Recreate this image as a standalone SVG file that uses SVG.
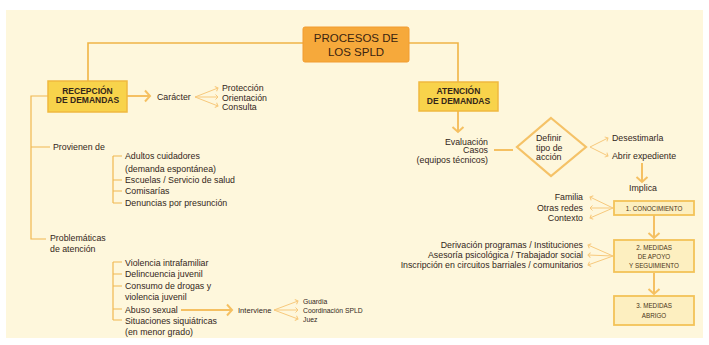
<svg xmlns="http://www.w3.org/2000/svg" width="709" height="345" viewBox="0 0 709 345">
<defs>
<style>
text{font-family:"Liberation Sans",Arial,sans-serif;fill:#33261a;font-size:8.8px}
.b{font-weight:bold;font-size:8.5px;text-anchor:middle}
.t{font-size:11.5px;text-anchor:middle;fill:#3a2410}
.s{font-size:6.8px}
.bx{font-size:6.3px;text-anchor:middle;fill:#4a3418}
.r{text-anchor:end}
.m{text-anchor:middle}
.ln{fill:none;stroke:#f0b445;stroke-width:1.6}
.tk{fill:none;stroke:#f0b850;stroke-width:1.2}
.ar{fill:none;stroke:#f5c062;stroke-width:2}
.fn{fill:none;stroke:#f7c97c;stroke-width:1}
.y{fill:#f8d34b;stroke:#f0b93f;stroke-width:1.5}
.p{fill:#fdefc0;stroke:#f3c258;stroke-width:1.8}
</style>
<marker id="big" markerUnits="userSpaceOnUse" markerWidth="14" markerHeight="14" refX="7" refY="7" orient="auto" viewBox="0 0 14 14">
<polyline points="2,1.5 7,7 2,12.5" fill="none" stroke="#f5c062" stroke-width="2"/>
</marker>
<marker id="sm" markerUnits="userSpaceOnUse" markerWidth="8" markerHeight="8" refX="4" refY="4" orient="auto" viewBox="0 0 8 8">
<polyline points="1.5,1.5 4,4 1.5,6.5" fill="none" stroke="#f7c97c" stroke-width="1"/>
</marker>
</defs>
<rect x="0" y="0" width="709" height="345" fill="#ffffff"/>
<rect x="6" y="10" width="697" height="328" fill="#fef7dc"/>

<g id="connectors">
<path class="ln" d="M303,43 H88 V81"/>
<path class="ln" d="M409,43 H458 V82"/>
<path class="tk" d="M48,96 H31 V239 H46 M31,147 H50"/>
<path class="tk" d="M113,156 V203 M113,156 H122 M113,180 H122 M113,191 H122 M113,203 H122"/>
<path class="tk" d="M113,262 V320 M113,262 H122 M113,274 H122 M113,286 H122 M113,309 H122 M113,320 H122"/>
<path class="ar" d="M127,96 H150" marker-end="url(#big)"/>
<path class="fn" d="M195,97 L218,88" marker-end="url(#sm)"/>
<path class="fn" d="M195,97 L218,97" marker-end="url(#sm)"/>
<path class="fn" d="M195,97 L218,106" marker-end="url(#sm)"/>
<path class="ar" d="M181,310 H232" marker-end="url(#big)"/>
<path class="fn" d="M274,310 L298,301" marker-end="url(#sm)"/>
<path class="fn" d="M274,310 L298,310" marker-end="url(#sm)"/>
<path class="fn" d="M274,310 L298,319" marker-end="url(#sm)"/>
<path class="ar" d="M458,111 V132" marker-end="url(#big)"/>
<path class="ar" d="M494,150 H513"/>
<path class="fn" d="M590,147 L608,138" marker-end="url(#sm)"/>
<path class="fn" d="M590,147 L608,156" marker-end="url(#sm)"/>
<path class="ar" d="M642,163 V182" marker-end="url(#big)"/>
<path class="fn" d="M613,208 L590,197" marker-end="url(#sm)"/>
<path class="fn" d="M613,208 L590,208" marker-end="url(#sm)"/>
<path class="fn" d="M613,208 L590,218" marker-end="url(#sm)"/>
<path class="ar" d="M654,215 V238" marker-end="url(#big)"/>
<path class="fn" d="M613,256 L588,245" marker-end="url(#sm)"/>
<path class="fn" d="M613,256 L588,255" marker-end="url(#sm)"/>
<path class="fn" d="M613,256 L588,265" marker-end="url(#sm)"/>
<path class="ar" d="M654,273 V294" marker-end="url(#big)"/>
</g>

<g id="title">
<rect x="303" y="27" width="106" height="35" rx="2" fill="#f6a93b" stroke="#f29c30" stroke-width="1"/>
<text class="t" x="356" y="42">PROCESOS DE</text>
<text class="t" x="356" y="55.5">LOS SPLD</text>
</g>

<g id="recepcion">
<rect class="y" x="48" y="81" width="79" height="31"/>
<text class="b" x="87.5" y="93.5">RECEPCIÓN</text>
<text class="b" x="87.5" y="103">DE DEMANDAS</text>
</g>

<g id="atencion">
<rect class="y" x="419" y="82" width="79" height="29"/>
<text class="b" x="458.5" y="94">ATENCIÓN</text>
<text class="b" x="458.5" y="103.5">DE DEMANDAS</text>
</g>

<g id="caracter">
<text x="157" y="99.5">Carácter</text>
<text x="222" y="91">Protección</text>
<text x="222" y="100.5">Orientación</text>
<text x="222" y="110">Consulta</text>
</g>

<g id="provienen">
<text x="53" y="150">Provienen de</text>
<text x="125" y="159">Adultos cuidadores</text>
<text x="125" y="171.5">(demanda espontánea)</text>
<text x="125" y="183">Escuelas / Servicio de salud</text>
<text x="125" y="194">Comisarías</text>
<text x="125" y="206">Denuncias por presunción</text>
</g>

<g id="problematicas">
<text x="50" y="241">Problemáticas</text>
<text x="50" y="252">de atención</text>
<text x="125" y="265.5">Violencia intrafamiliar</text>
<text x="125" y="277">Delincuencia juvenil</text>
<text x="125" y="288.5">Consumo de drogas y</text>
<text x="125" y="300">violencia juvenil</text>
<text x="125" y="312.5">Abuso sexual</text>
<text x="125" y="323.5">Situaciones siquiátricas</text>
<text x="125" y="335">(en menor grado)</text>
</g>

<g id="interviene">
<text x="238" y="312.5" style="font-size:7.6px">Interviene</text>
<text class="s" x="303" y="303.5">Guardia</text>
<text class="s" x="303" y="312.5">Coordinación SPLD</text>
<text class="s" x="303" y="321.5">Juez</text>
</g>

<g id="evaluacion">
<text class="r" x="488" y="144.5">Evaluación</text>
<text class="r" x="488" y="153">Casos</text>
<text class="r" x="488" y="162.5">(equipos técnicos)</text>
</g>

<g id="definir">
<polygon points="551,118 586,147 551,176 517,147" fill="#fef7dc" stroke="#f5c267" stroke-width="2.2"/>
<text x="536" y="141">Definir</text>
<text x="536" y="150.5">tipo de</text>
<text x="536" y="160">acción</text>
</g>

<g id="decision">
<text x="612" y="141">Desestimarla</text>
<text x="612" y="159">Abrir expediente</text>
<text class="m" x="643" y="191">Implica</text>
</g>

<g id="conocimiento">
<rect class="p" x="614" y="201" width="80" height="14"/>
<text class="bx" x="654" y="210.5">1. CONOCIMIENTO</text>
<text class="r" x="583" y="200">Familia</text>
<text class="r" x="583" y="210.5">Otras redes</text>
<text class="r" x="583" y="221">Contexto</text>
</g>

<g id="apoyo">
<rect class="p" x="614" y="240" width="80" height="32"/>
<text class="bx" x="654" y="249.5">2. MEDIDAS</text>
<text class="bx" x="654" y="258.5">DE APOYO</text>
<text class="bx" x="654" y="267.5">Y SEGUIMIENTO</text>
<text class="r" x="583" y="248">Derivación programas / Instituciones</text>
<text class="r" x="583" y="258">Asesoría psicológica / Trabajador social</text>
<text class="r" x="583" y="268">Inscripción en circuitos barriales / comunitarios</text>
</g>

<g id="abrigo">
<rect class="p" x="614" y="296" width="80" height="29"/>
<text class="bx" x="654" y="307.5">3. MEDIDAS</text>
<text class="bx" x="654" y="317.5">ABRIGO</text>
</g>
</svg>
